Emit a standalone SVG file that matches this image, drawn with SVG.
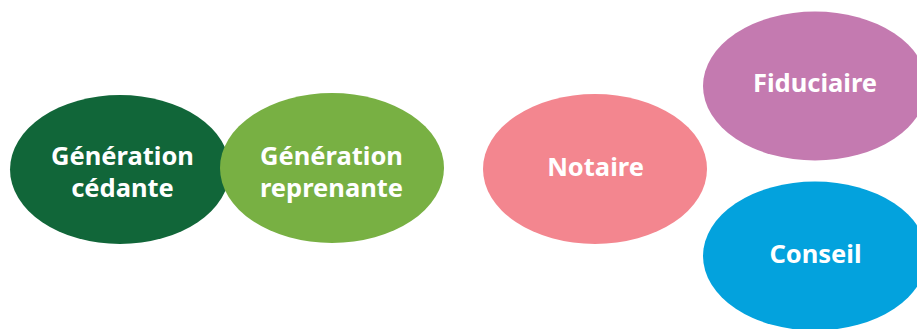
<svg xmlns="http://www.w3.org/2000/svg" width="917" height="329" viewBox="0 0 917 329">
<style>
text{font-family:"Noto Sans","Open Sans","Liberation Sans",sans-serif;font-weight:700;font-size:25.5px;fill:#ffffff;text-anchor:middle}
</style>
<rect width="917" height="329" fill="#ffffff"/>
<g id="connectors"/>
<g id="cedante">
<ellipse cx="120" cy="169.5" rx="110" ry="74.5" fill="#116639"/>
<text x="122.5" y="165">Génération</text>
<text x="122.5" y="197">cédante</text>
</g>
<g id="reprenante">
<ellipse cx="332" cy="168" rx="112" ry="75" fill="#78b043"/>
<text x="331.5" y="165">Génération</text>
<text x="331.5" y="197">reprenante</text>
</g>
<g id="notaire">
<ellipse cx="595" cy="169" rx="112" ry="75" fill="#f3868f"/>
<text x="595.5" y="176">Notaire</text>
</g>
<g id="fiduciaire">
<ellipse cx="815" cy="86" rx="112" ry="74.5" fill="#c47ab0"/>
<text x="815" y="92">Fiduciaire</text>
</g>
<g id="conseil">
<ellipse cx="815" cy="256" rx="112" ry="74.5" fill="#03a2dd"/>
<text x="815.5" y="263">Conseil</text>
</g>
</svg>
